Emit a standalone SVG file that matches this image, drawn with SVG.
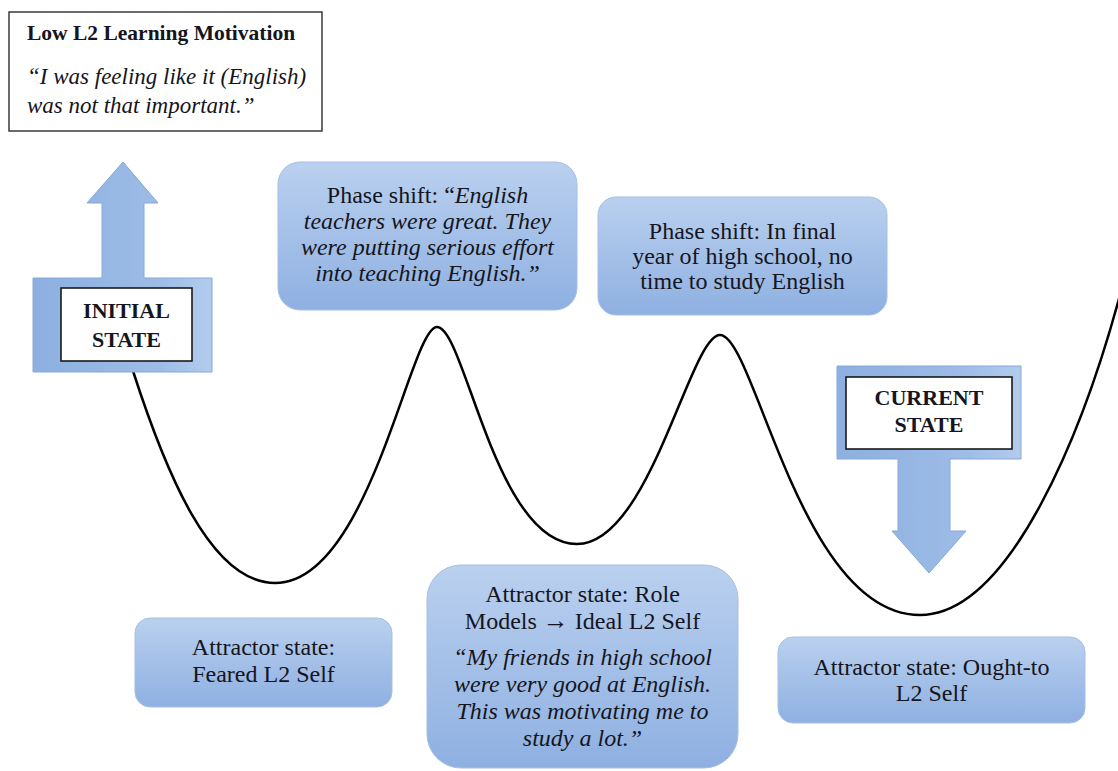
<svg xmlns="http://www.w3.org/2000/svg" width="1118" height="771" viewBox="0 0 1118 771" font-family="Liberation Serif, Times New Roman, serif">
  <defs>
    <linearGradient id="boxGrad" x1="0" y1="0" x2="0" y2="1">
      <stop offset="0" stop-color="#bad0ef"/>
      <stop offset="1" stop-color="#8eb0e1"/>
    </linearGradient>
    <linearGradient id="arrowGrad" x1="0" y1="0" x2="1" y2="0">
      <stop offset="0" stop-color="#8db0e1"/>
      <stop offset="0.7" stop-color="#9dbce6"/>
      <stop offset="1" stop-color="#b3cced"/>
    </linearGradient>
    <style>
      .rbox { fill: url(#boxGrad); stroke: #a6bfe3; stroke-width: 1; }
      .arrow { fill: url(#arrowGrad); stroke: #86a8d9; stroke-width: 1; }
      .label { fill: #ffffff; stroke: #1a1a1a; stroke-width: 1.6; }
      .tx { fill: #151520; }
      .c { text-anchor: middle; }
      .i { font-style: italic; }
      .b { font-weight: bold; }
      .curve { fill: none; stroke: #000000; stroke-width: 2.5; }
    </style>
  </defs>
  <rect width="1118" height="771" fill="#ffffff"/>

  <g id="connectors">
    <path class="curve" d="M133,371 C165,470 210,583 275,583 C370,583 410,327 437,327 C465,327 495,544 577,544 C650,544 690,335 720,335 C755,335 800,615 920,615 C1010,615 1085,430 1124,280"/>
  </g>

  <g id="motivation-box" font-family="Liberation Serif">
    <rect x="9" y="12" width="313" height="119" fill="#ffffff" stroke="#3a3a3a" stroke-width="1.5"/>
    <text class="tx b" x="27" y="40" font-size="21.5" font-family="Liberation Serif">Low L2 Learning Motivation</text>
    <text class="tx i" x="27" y="84" font-size="23" font-family="Liberation Serif">“I was feeling like it (English)</text>
    <text class="tx i" x="27" y="113" font-size="23" font-family="Liberation Serif">was not that important.”</text>
  </g>

  <g id="initial-state" font-family="Liberation Serif">
    <path class="arrow" d="M123,162 L158,203 L144,203 L144,278 L212,278 L212,372 L33,372 L33,278 L102,278 L102,203 L87,203 Z"/>
    <rect class="label" x="61" y="288" width="131" height="73"/>
    <text class="tx b c" x="126.5" y="318" font-size="22">INITIAL</text>
    <text class="tx b c" x="126.5" y="347" font-size="22">STATE</text>
  </g>

  <g id="current-state" font-family="Liberation Serif">
    <path class="arrow" d="M837,366 L1021,366 L1021,459 L950,459 L950,531 L966,531 L929,573 L892,531 L898,531 L898,459 L837,459 Z"/>
    <rect class="label" x="846" y="377" width="166" height="72"/>
    <text class="tx b c" x="929" y="405" font-size="22">CURRENT</text>
    <text class="tx b c" x="929" y="432" font-size="22">STATE</text>
  </g>

  <g id="phase-shift-1" font-family="Liberation Serif">
    <rect class="rbox" x="278" y="162" width="299" height="148" rx="22"/>
    <text class="tx c" x="427.5" y="203" font-size="24">Phase shift: “<tspan class="i">English</tspan></text>
    <text class="tx i c" x="427.5" y="229" font-size="24">teachers were great. They</text>
    <text class="tx i c" x="427.5" y="255" font-size="24">were putting serious effort</text>
    <text class="tx i c" x="427.5" y="281" font-size="24">into teaching English.”</text>
  </g>

  <g id="phase-shift-2" font-family="Liberation Serif">
    <rect class="rbox" x="598" y="197" width="289" height="118" rx="18"/>
    <text class="tx c" x="742.5" y="239" font-size="24">Phase shift: In final</text>
    <text class="tx c" x="742.5" y="264" font-size="24">year of high school, no</text>
    <text class="tx c" x="742.5" y="289" font-size="24">time to study English</text>
  </g>

  <g id="attractor-feared" font-family="Liberation Serif">
    <rect class="rbox" x="135" y="618" width="257" height="89" rx="15"/>
    <text class="tx c" x="263.5" y="655" font-size="24">Attractor state:</text>
    <text class="tx c" x="263.5" y="682" font-size="24">Feared L2 Self</text>
  </g>

  <g id="attractor-ideal" font-family="Liberation Serif">
    <rect class="rbox" x="427" y="565" width="311" height="203" rx="34"/>
    <text class="tx c" x="582.5" y="602" font-size="24">Attractor state: Role</text>
    <text class="tx c" x="582.5" y="629" font-size="24">Models <tspan font-weight="bold" font-size="26">→</tspan> Ideal L2 Self</text>
    <text class="tx i c" x="582.5" y="665" font-size="24">“My friends in high school</text>
    <text class="tx i c" x="582.5" y="692" font-size="24">were very good at English.</text>
    <text class="tx i c" x="582.5" y="719" font-size="24">This was motivating me to</text>
    <text class="tx i c" x="582.5" y="746" font-size="24">study a lot.”</text>
  </g>

  <g id="attractor-ought" font-family="Liberation Serif">
    <rect class="rbox" x="778" y="637" width="307" height="86" rx="15"/>
    <text class="tx c" x="931.5" y="675" font-size="24">Attractor state: Ought-to</text>
    <text class="tx c" x="931.5" y="701" font-size="24">L2 Self</text>
  </g>
</svg>
